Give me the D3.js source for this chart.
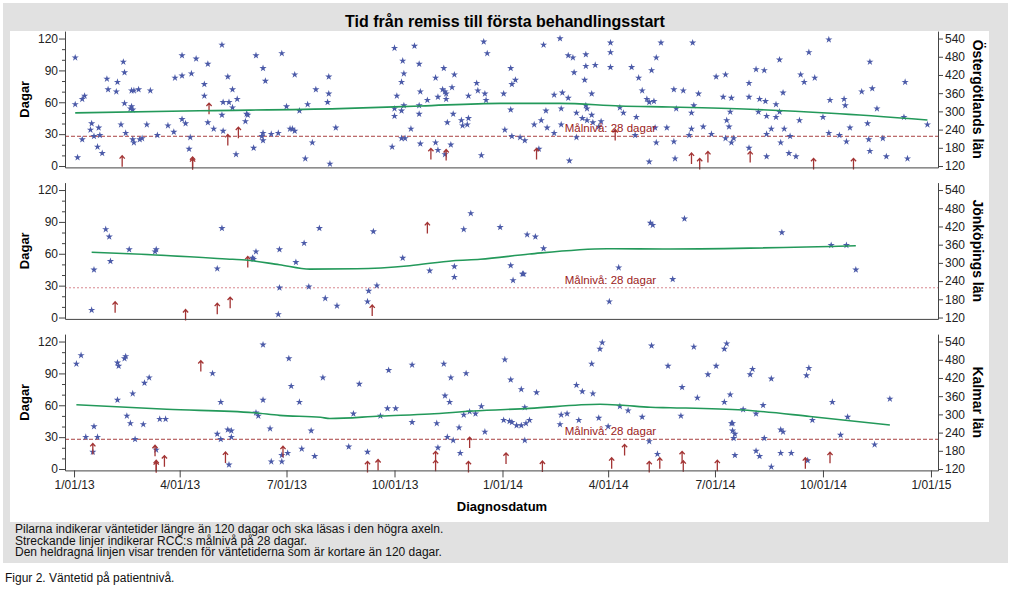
<!DOCTYPE html>
<html><head><meta charset="utf-8">
<script src="https://cdn.jsdelivr.net/npm/d3@7"></script>
<style>body{margin:0;background:#fff;} svg{display:block;font-family:"Liberation Sans",Arial,sans-serif;}</style>
</head><body><svg id="c" width="1011" height="590"></svg>
<script>
// ---------- DATA (x = days since 2013-01-01, y = days waiting) ----------
const counties = ["Östergötlands län", "Jönköpings län", "Kalmar län"];
const targetDays = 28;
const targetLabel = "Målnivå: 28 dagar";
const yTicksLeft = [0, 30, 60, 90, 120];
const yMinorLeft = [10, 20, 40, 50, 70, 80, 100, 110];
const yTicksRight = [120, 180, 240, 300, 360, 420, 480, 540];
const xTickDates = ["2013-01-01","2013-04-01","2013-07-01","2013-10-01","2014-01-01","2014-04-01","2014-07-01","2014-10-01","2015-01-01"];
const xTickLabels = ["1/01/13","4/01/13","7/01/13","10/01/13","1/01/14","4/01/14","7/01/14","10/01/14","1/01/15"];

const ostStars = [[1,102],[1,58],[3,8],[7,63],[9,66],[7,25],[15,40],[14,34],[17,28],[21,36],[22,29],[20,18],[24,12],[28,82],[29,72],[37,79],[36,70],[40,39],[42,98],[43,88],[43,59],[44,31],[49,71],[51,71],[49,56],[50,53],[48,54],[50,25],[51,22],[55,72],[56,25],[58,26],[62,39],[65,71],[71,29],[80,38],[85,32],[86,83],[92,104],[92,85],[92,44],[95,40],[98,16],[99,27],[100,87],[104,101],[114,96],[111,77],[111,66],[114,41],[119,35],[126,114],[131,84],[127,60],[132,60],[135,72],[135,55],[126,48],[127,33],[139,63],[138,11],[146,42],[147,49],[148,48],[153,17],[155,104],[161,92],[163,80],[161,31],[161,24],[160,28],[168,30],[174,31],[177,106],[181,56],[184,35],[186,35],[188,33],[188,86],[192,52],[197,7],[199,58],[203,22],[206,72],[216,60],[217,68],[217,84],[218,2],[223,36],
[273,111],[290,113],[280,99],[281,87],[279,79],[275,66],[273,54],[273,47],[279,52],[281,57],[294,96],[295,70],[294,57],[294,49],[301,62],[287,35],[279,26],[282,26],[271,18],[295,21],[308,83],[315,92],[314,72],[316,70],[317,68],[317,63],[310,65],[324,86],[322,74],[323,49],[318,41],[308,22],[310,15],[316,11],[321,20],[330,43],[331,38],[336,45],[335,39],[336,66],[343,78],[344,71],[350,68],[351,62],[349,117],[352,106],[347,10],[366,68],[367,34],[372,92],[376,81],[373,77],[372,53],[373,28],[380,27],[384,24],[396,16],[392,39],[398,43],[403,36],[402,52],[400,114],[409,67],[409,31],[414,120],[416,69],[421,64],[415,54],[415,39],[422,5],[421,104],[425,102],[426,88],[436,105],[436,94],[444,95],[435,81],[441,68],[428,50],[437,54],[436,57],[433,45],[437,43],[441,48],[442,41],[449,42],[447,37],[428,27],[457,116],[457,107],[457,93],[465,55],[468,50],[475,93],[481,83],[484,71],[479,46],[478,29],[488,63],[490,60],[494,61],[492,90],[496,102],[500,116],[495,36],[505,36],[496,22],[490,4],
[527,116],[511,72],[519,71],[532,68],[513,54],[528,57],[526,50],[526,35],[524,29],[536,37],[543,30],[511,23],[512,7],[547,84],[555,86],[553,65],[560,64],[556,43],[558,37],[559,51],[555,26],[560,22],[562,26],[575,78],[575,65],[575,17],[581,91],[588,90],[584,63],[589,61],[583,51],[590,47],[590,30],[590,9],[601,100],[604,69],[598,58],[601,51],[598,46],[594,35],[605,35],[602,22],[610,28],[609,12],[615,9],[619,86],[622,79],[626,107],[631,83],[618,43],[638,46],[643,119],[644,62],[643,31],[652,29],[656,63],[657,57],[661,36],[658,23],[671,70],[680,73],[678,98],[676,40],[677,25],[678,14],[684,54],[689,26],[692,9],[708,79],[707,46],[710,7],[727,39]];
const ostArrows = [[41,136],[101,132],[101,126],[115,309],[131,206],[140,230],[304,160],[317,156],[394,160],[461,222],[526,145],[533,127],[540,150],[576,150],[630,127],[664,127]];
const ostTrend = [[1,50],[107,52],[226,54],[295,56.5],[363,59],[414,59],[465,56.5],[508,55.5],[576,53.4],[645,49.6],[727,43.3]];

const jonStars = [[15,7],[17,45],[27,83],[30,76],[31,53],[47,64],[70,64],[69,62],[126,84],[122,46],[152,56],[153,55],[155,62],[175,64],[175,28],[174,3],[189,52],[196,70],[200,29],[209,84],[214,18],[224,11],[255,81],[251,25],[250,15],[258,30],[280,56],[303,44],[324,48],[324,38],[332,83],[338,98],[363,85],[372,49],[374,35],[382,41],[383,41],[386,78],[393,76],[400,65],[456,15],[464,47],[491,89],[493,87],[520,93],[510,36],[603,80],[645,68],[658,68],[666,45]];
const jonArrows = [[35,154],[95,128],[122,149],[133,169],[148,303],[254,143],[301,415]];
const jonTrend = [[15,61.4],[47,60],[135,54.8],[146,54.1],[175,49.7],[201,45.6],[241,45.9],[286,48.8],[323,53.5],[346,54.8],[388,59.8],[454,64.8],[508,64.5],[666,67.6]];

const kalStars = [[2,99],[6,107],[10,30],[17,40],[16,16],[20,30],[37,100],[38,97],[43,104],[44,106],[37,65],[45,50],[48,43],[50,71],[52,28],[60,81],[64,86],[59,42],[73,47],[78,47],[70,18],[118,90],[125,63],[122,33],[125,28],[131,37],[134,36],[134,30],[132,4],[161,117],[161,65],[155,53],[157,50],[167,38],[168,7],[177,7],[177,13],[183,104],[185,78],[182,15],[192,63],[194,19],[202,36],[205,12],[212,86],
[234,21],[243,80],[238,52],[250,16],[261,50],[268,93],[267,57],[274,57],[288,98],[288,44],[309,43],[310,20],[315,99],[316,69],[320,63],[321,86],[318,30],[323,27],[328,39],[329,15],[334,90],[332,51],[337,54],[342,52],[347,59],[350,35],[367,103],[372,84],[366,46],[371,45],[373,44],[377,41],[381,41],[385,43],[388,46],[384,58],[381,75],[384,27],[394,72],[414,42],[415,51],[420,52],[430,46],[428,79],[433,73],[442,71],[441,99],[448,113],[450,119],[447,48],[455,40],[465,59],[472,55],[484,49],[490,26],[492,116],[497,14],[506,97],
[528,115],[554,113],[556,118],[547,97],[540,89],[518,77],[531,67],[559,70],[554,63],[517,50],[560,43],[561,43],[561,36],[563,33],[562,29],[563,13],[570,56],[576,89],[578,94],[581,52],[587,60],[588,29],[581,17],[584,12],[594,85],[594,2],[602,37],[604,35],[602,15],[611,15],[624,88],[626,95],[629,46],[625,8],[646,63],[653,32],[659,49],[682,23],[695,66]];
const kalArrows = [[16,186],[69,180],[70,131],[70,126],[77,146],[108,459],[129,158],[178,177],[250,127],[259,133],[308,160],[308,131],[337,207],[336,127],[368,155],[399,128],[458,139],[469,183],[490,127],[499,139],[518,160],[519,129],[548,131],[623,139],[644,157]];
const kalTrend = [[2,60.5],[79,56.2],[153,53],[175,50.5],[210,48.7],[218,47.5],[261,49.9],[303,51.8],[340,54.6],[388,57.1],[448,60.9],[465,60.2],[491,58.1],[508,57.7],[570,55.5],[627,49.5],[695,41.4]];

const panels = [
  {name: counties[0], stars: ostStars, arrows: ostArrows, trend: ostTrend},
  {name: counties[1], stars: jonStars, arrows: jonArrows, trend: jonTrend},
  {name: counties[2], stars: kalStars, arrows: kalArrows, trend: kalTrend}
];
const labelDay = 418;

// ---------- STYLE / LAYOUT ----------
const starColor = "#4b5aa8", arrowColor = "#a33434", trendColor = "#23995a";
const targetStyles = [{c:"#a84040", d:"4,2"}, {c:"#d88890", d:"2,2"}, {c:"#a84040", d:"4,2"}];
const svg = d3.select("#c");
svg.append("rect").attr("x",3).attr("y",3).attr("width",1005).attr("height",560).attr("fill","#e1e1e1");
svg.append("rect").attr("x",10).attr("y",31).attr("width",979).attr("height",491).attr("fill","#fff");
svg.append("text").attr("x",505).attr("y",27).attr("text-anchor","middle")
  .attr("font-size",16).attr("font-weight","bold").attr("fill","#000")
  .text("Tid från remiss till första behandlingsstart");

const base = Date.UTC(2013,0,1);
const toDate = d => new Date(base + d*864e5);
const x = d3.scaleUtc().domain([toDate(-7.7), toDate(736)]).range([65, 938]);
const starSym = d3.symbol().type(d3.symbolStar).size(16)();
const arrowPath = "M0,-5.5L0,5.5M-2.6,-2.6L0,-5.5L2.6,-2.6";

panels.forEach((p, i) => {
  const off = 151.5 * i;
  const y = d3.scaleLinear().domain([-1.3, 127]).range([167.4 + off, 31.1 + off]);
  const yR = d3.scaleLinear().domain([120 - 1.3*3.5, 120 + 127*3.5]).range([167.4 + off, 31.1 + off]);
  const g = svg.append("g");

  // target line
  g.append("line").attr("x1",65).attr("x2",938).attr("y1",y(targetDays)).attr("y2",y(targetDays))
    .attr("stroke",targetStyles[i].c).attr("stroke-width",1).attr("stroke-dasharray",targetStyles[i].d);

  // stars
  g.selectAll("path.star").data(p.stars).join("path").attr("class","star")
    .attr("d", starSym).attr("fill", starColor)
    .attr("transform", d => `translate(${x(toDate(d[0]))},${y(d[1])})`);

  // arrows (values > 120 days, right axis)
  g.selectAll("path.arr").data(p.arrows).join("path").attr("class","arr")
    .attr("d", arrowPath).attr("fill","none").attr("stroke", arrowColor).attr("stroke-width",1.3)
    .attr("transform", d => `translate(${x(toDate(d[0]))},${yR(d[1])})`);

  // trend
  g.append("path").datum(p.trend)
    .attr("d", d3.line().x(d => x(toDate(d[0]))).y(d => y(d[1])).curve(d3.curveMonotoneX))
    .attr("fill","none").attr("stroke",trendColor).attr("stroke-width",1.6);

  // target label
  g.append("text").attr("x", x(toDate(labelDay))).attr("y", y(targetDays) - 4)
    .attr("font-size",11.5).attr("fill","#9b2222").text(targetLabel);

  // left axis
  const la = g.append("g").attr("transform","translate(65,0)")
    .call(d3.axisLeft(y).tickValues(yTicksLeft).tickSize(6).tickSizeOuter(0).tickPadding(1));
  g.append("g").attr("transform","translate(65,0)")
    .call(d3.axisLeft(y).tickValues(yMinorLeft).tickSize(3).tickSizeOuter(0).tickFormat(""))
    .select(".domain").remove();
  // right axis
  const ra = g.append("g").attr("transform","translate(938,0)")
    .call(d3.axisRight(yR).tickValues(yTicksRight).tickSize(5).tickSizeOuter(0).tickPadding(2));
  // bottom axis
  const ba = g.append("g").attr("transform",`translate(0,${y(-1.3)})`);
  if (i === 2) {
    ba.call(d3.axisBottom(x).tickValues(xTickDates.map(s => new Date(s + "T00:00:00Z")))
      .tickFormat((d, k) => xTickLabels[k]).tickSize(7).tickSizeOuter(0).tickPadding(3));
  } else {
    ba.call(d3.axisBottom(x).tickValues([]).tickSizeOuter(0));
  }
  [la, ra, ba].forEach(a => {
    a.attr("font-size",12).attr("font-family","Liberation Sans, Arial, sans-serif");
    a.selectAll("text").attr("fill","#222");
    a.selectAll("line").attr("stroke","#444");
    a.select(".domain").attr("stroke","#444");
  });
  g.selectAll("line").filter(function(){return this.parentNode.classList.contains("tick");}).attr("stroke","#444");

  const cy = (y(-1.3) + y(127)) / 2;
  g.append("text").attr("transform",`translate(29,${cy}) rotate(-90)`).attr("text-anchor","middle")
    .attr("font-size",13).attr("font-weight","bold").attr("fill","#000").text("Dagar");
  g.append("text").attr("transform",`translate(973,${cy}) rotate(90)`).attr("text-anchor","middle")
    .attr("font-size",14).attr("font-weight","bold").attr("fill","#000").text(p.name);
});

svg.append("text").attr("x",502).attr("y",511).attr("text-anchor","middle")
  .attr("font-size",13).attr("font-weight","bold").attr("fill","#000").text("Diagnosdatum");

const notes = ["Pilarna indikerar väntetider längre än 120 dagar och ska läsas i den högra axeln.",
  "Streckande linjer indikerar RCC:s målnivå på 28 dagar.",
  "Den heldragna linjen visar trenden för väntetiderna som är kortare än 120 dagar."];
svg.selectAll("text.note").data(notes).join("text").attr("class","note")
  .attr("x",15).attr("y",(d,k) => 533 + k*11.5).attr("font-size",12).attr("fill","#111").text(d => d);
svg.append("text").attr("x",5).attr("y",582).attr("font-size",12).attr("fill","#111").text("Figur 2. Väntetid på patientnivå.");
</script></body></html>
